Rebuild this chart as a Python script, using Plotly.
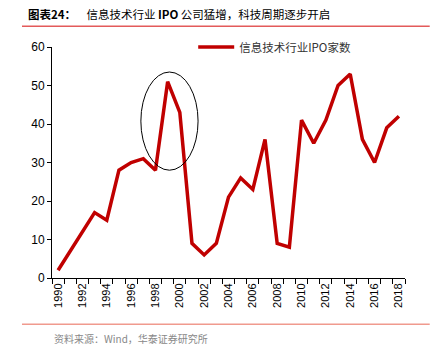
import plotly.graph_objects as go

years = list(range(1990, 2019))
ipo_counts = [2, 7, 12, 17, 15, 28, 30, 31, 28, 51, 43, 9, 6, 9, 21, 26, 23, 36, 9, 8,
              41, 35, 41, 50, 53, 36, 30, 39, 42]
series_name = "信息技术行业IPO家数"
tick_years = list(range(1990, 2019, 2))
y_ticks = [0, 10, 20, 30, 40, 50, 60]

title = "<b>图表24：</b>    信息技术行业 <b>IPO</b> 公司猛增，科技周期逐步开启"
source = "资料来源：Wind，华泰证券研究所"

FONT = "Liberation Sans, Noto Sans CJK SC, sans-serif"

fig = go.Figure()
fig.add_trace(go.Scatter(
    x=years, y=ipo_counts, mode="lines", name=series_name,
    line=dict(color="#C00000", width=3.5),
))

fig.update_layout(
    width=440, height=355,
    margin=dict(l=52, r=35, t=47, b=77, autoexpand=False),
    paper_bgcolor="white", plot_bgcolor="white",
    font=dict(family=FONT, size=12, color="#000"),
    showlegend=True,
    legend=dict(x=0.40, y=1.0, xanchor="left", yanchor="middle",
                bgcolor="rgba(0,0,0,0)",
                font=dict(size=11.5, color="#333", family="Noto Sans CJK SC, sans-serif"),
                itemwidth=36),
    xaxis=dict(
        range=[1989.5, 2018.5], tickmode="array", tickvals=tick_years,
        ticktext=[str(y) for y in tick_years], tickangle=-90,
        showgrid=False, zeroline=False, showline=True, linecolor="#000", linewidth=1,
        ticks="", tickfont=dict(size=11),
        minor=dict(ticks="outside", tick0=1989.5, dtick=1, ticklen=5, tickcolor="#000", showgrid=False),
    ),
    yaxis=dict(
        range=[0, 60], tickvals=y_ticks, showgrid=False, zeroline=False,
        showline=True, linecolor="#000", linewidth=1,
        ticks="outside", ticklen=4, tickcolor="#000", tickfont=dict(size=12),
    ),
)

fig.add_shape(type="circle", xref="x", yref="y", x0=1996.8, x1=2001.5, y0=28, y1=53.5,
              line=dict(color="#000", width=1))

fig.add_annotation(text=title, xref="paper", yref="paper", x=-0.074, y=1.145,
                   xanchor="left", yanchor="middle", showarrow=False, align="left",
                   font=dict(size=11.5, color="#000", family="Noto Sans CJK SC, sans-serif"))
fig.add_shape(type="line", xref="paper", yref="paper", x0=-0.085, x1=1.07, y0=1.09, y1=1.09,
              line=dict(color="#E35A5A", width=1.5))
fig.add_shape(type="line", xref="paper", yref="paper", x0=-0.085, x1=1.07, y0=-0.2, y1=-0.2,
              line=dict(color="#F09A8E", width=1.5))
fig.add_annotation(text=source, xref="paper", yref="paper", x=0.0, y=-0.26,
                   xanchor="left", yanchor="middle", showarrow=False, align="left",
                   font=dict(size=10, color="#888", family="Noto Sans CJK SC, sans-serif"))

fig.write_html("out.html", config={"displayModeBar": False},
               post_script="document.body.style.margin='0';")
